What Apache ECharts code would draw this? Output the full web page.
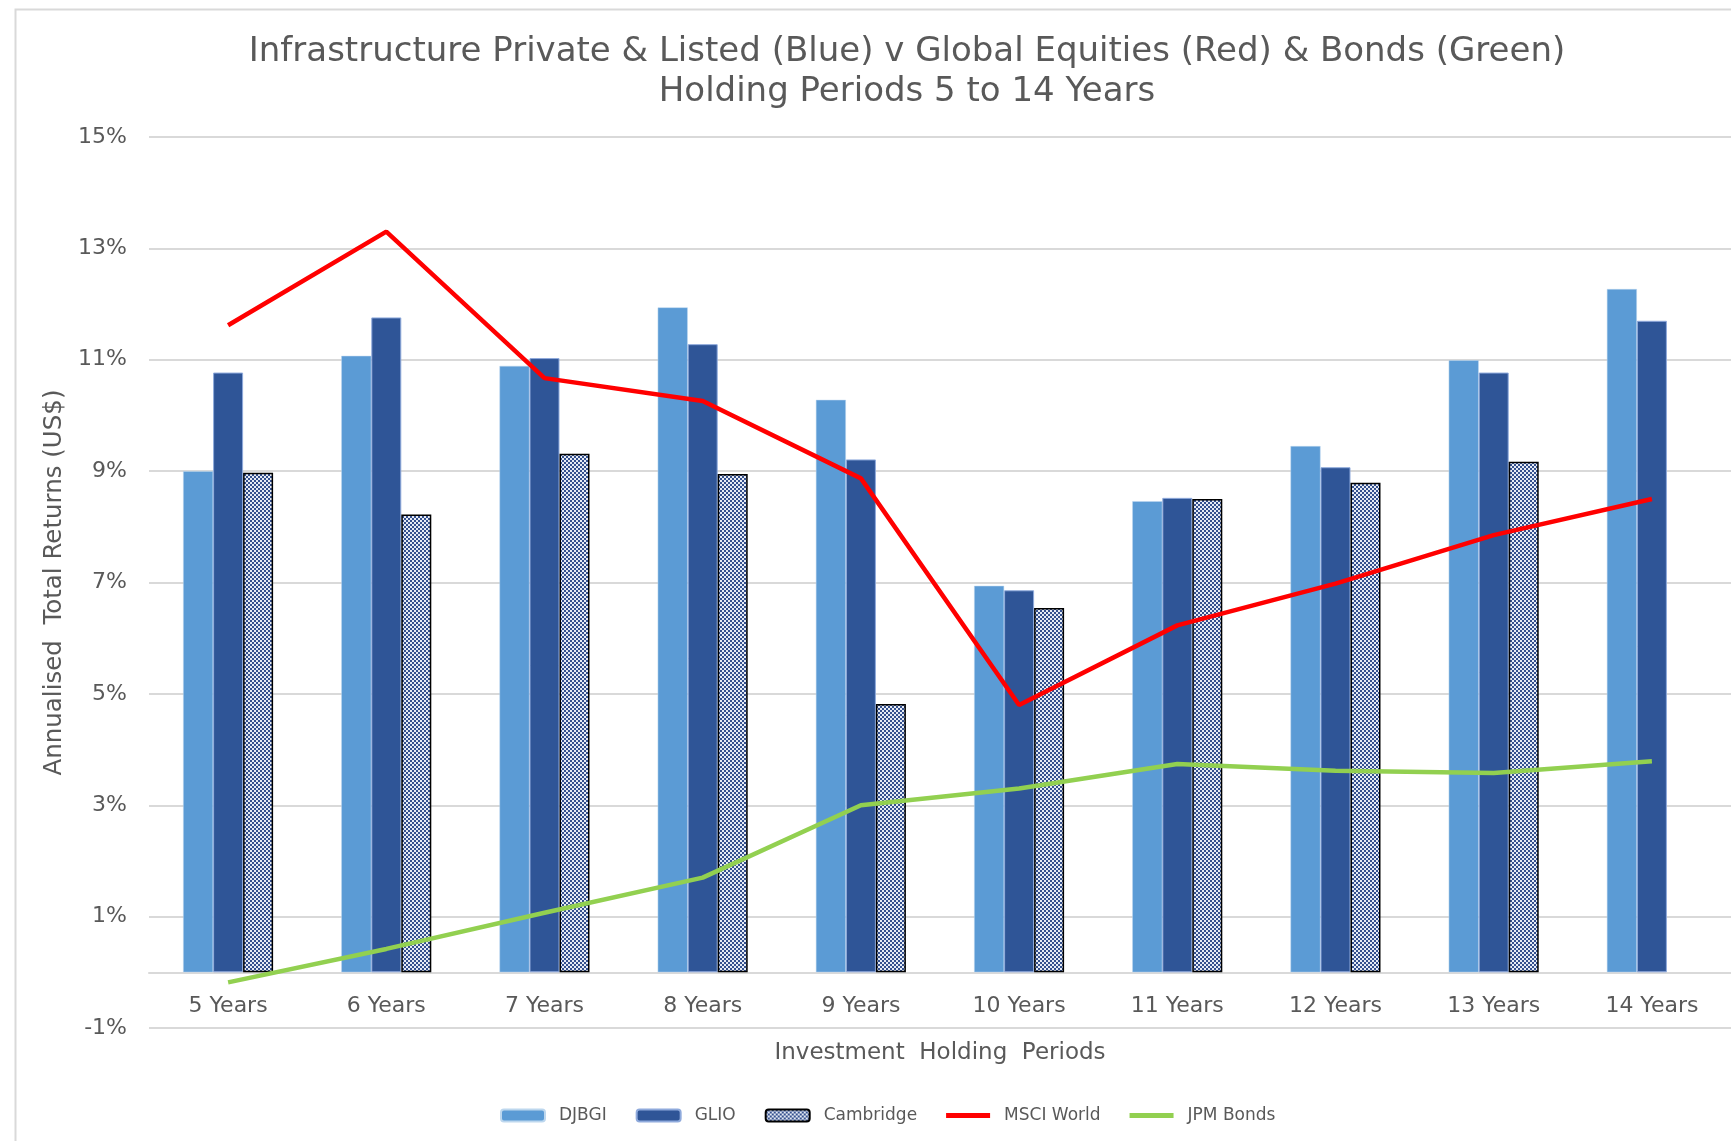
<!DOCTYPE html>
<html>
<head>
<meta charset="utf-8">
<title>Infrastructure v Equities & Bonds</title>
<script src="https://cdn.jsdelivr.net/npm/echarts@6.0.0/dist/echarts.min.js"></script>
<style>
  html, body { margin: 0; padding: 0; background: #fff; }
  #chart { width: 1731px; height: 1141px; }
</style>
</head>
<body>
<div id="chart"></div>
<script>
var periods = ['5 Years', '6 Years', '7 Years', '8 Years', '9 Years',
               '10 Years', '11 Years', '12 Years', '13 Years', '14 Years'];

var djbgi     = [9.00, 11.07, 10.89, 11.94, 10.28, 6.94, 8.46, 9.45, 10.99, 12.27];
var glio      = [10.77, 11.76, 11.03, 11.28, 9.21, 6.86, 8.52, 9.07, 10.77, 11.70];
var cambridge = [8.97, 8.22, 9.31, 8.95, 4.82, 6.54, 8.50, 8.79, 9.17, null];
var msciWorld = [11.62, 13.30, 10.67, 10.26, 8.87, 4.80, 6.23, 6.98, 7.85, 8.50];
var jpmBonds  = [-0.18, 0.42, 1.07, 1.70, 3.00, 3.30, 3.74, 3.62, 3.58, 3.79];

// tick labels shown on the left: -1%, 1%, 3% ... 15%
var tickLabels = ['-1%', '1%', '3%', '5%', '7%', '9%', '11%', '13%', '15%'];

var grey = '#595959';
var font = 'DejaVu Sans';

// small checker pattern for the Cambridge bars
function checker() {
    var c = document.createElement('canvas');
    c.width = 4; c.height = 4;
    var ctx = c.getContext('2d');
    ctx.fillStyle = '#34508e';
    ctx.fillRect(0, 0, 4, 4);
    ctx.fillStyle = '#e6ebf5';
    ctx.fillRect(0, 0, 2, 2);
    ctx.fillRect(2, 2, 2, 2);
    return c;
}

var lineIcon = 'path://M0,0H44V5H0Z';

var chart = echarts.init(document.getElementById('chart'));

var option = {
    animation: false,
    backgroundColor: '#fff',
    textStyle: { fontFamily: font },
    graphic: [{
        type: 'rect',
        left: 13, top: 7,
        shape: { width: 1760, height: 1180 },
        style: { fill: null, stroke: '#d9d9d9', lineWidth: 2 },
        z: -1
    }],
    title: {
        text: 'Infrastructure Private & Listed (Blue) v Global Equities (Red) & Bonds (Green)\nHolding Periods 5 to 14 Years',
        left: 902,
        top: 27,
        textAlign: 'center',
        textStyle: {
            color: grey, fontFamily: font, fontWeight: 'normal',
            fontSize: 34, lineHeight: 40, align: 'center'
        }
    },
    legend: {
        left: 495,
        top: 1102,
        itemWidth: 44,
        itemHeight: 12,
        itemGap: 29,
        textStyle: { color: grey, fontFamily: font, fontSize: 17, padding: [0, 0, 0, 9] },
        data: [
            'DJBGI', 'GLIO', 'Cambridge',
            { name: 'MSCI World', icon: lineIcon },
            { name: 'JPM Bonds', icon: lineIcon }
        ]
    },
    grid: {
        left: 149,
        right: -3,
        top: 137,
        bottom: 113,
        containLabel: false
    },
    xAxis: {
        type: 'category',
        data: periods,
        name: 'Investment  Holding  Periods',
        nameLocation: 'middle',
        nameGap: 14,
        nameMoveOverlap: false,
        nameTextStyle: { color: grey, fontSize: 23, fontFamily: font },
        axisLine: { onZero: true, onZeroAxisIndex: 0, lineStyle: { color: '#d9d9d9', width: 2 } },
        axisTick: { show: false },
        axisLabel: { color: grey, fontSize: 22, margin: -33, fontFamily: font }
    },
    yAxis: [{
        // data axis, -1% .. 15%
        type: 'value',
        min: -1,
        max: 15,
        axisLine: { show: false },
        axisTick: { show: false },
        axisLabel: { show: false },
        splitLine: { show: false }
    }, {
        // label/grid axis: step 2 from -1%
        type: 'value',
        min: 0,
        max: 16,
        interval: 2,
        position: 'left',
        name: 'Annualised  Total Returns (US$)',
        nameLocation: 'middle',
        nameRotate: 90,
        nameGap: 82,
        nameTextStyle: { color: grey, fontSize: 24.5, fontFamily: font },
        axisLine: { show: false },
        axisTick: { show: false },
        axisLabel: {
            color: grey, fontSize: 22, margin: 22, fontFamily: font,
            formatter: function (v) { return tickLabels[v / 2]; }
        },
        splitLine: { lineStyle: { color: '#d9d9d9', width: 2 } }
    }],
    series: [{
        name: 'DJBGI',
        type: 'bar',
        yAxisIndex: 0,
        data: djbgi,
        barWidth: 30,
        barGap: '0%',
        itemStyle: { color: '#5b9bd5', borderColor: '#bdd7ee', borderWidth: 0.5 }
    }, {
        name: 'GLIO',
        type: 'bar',
        yAxisIndex: 0,
        data: glio,
        barWidth: 30,
        barGap: '0%',
        itemStyle: { color: '#2f5597', borderColor: '#8faadc', borderWidth: 1 }
    }, {
        name: 'Cambridge',
        type: 'bar',
        yAxisIndex: 0,
        data: cambridge,
        barWidth: 30,
        barGap: '0%',
        itemStyle: {
            color: { image: checker(), repeat: 'repeat' },
            borderColor: '#000',
            borderWidth: 1.5
        }
    }, {
        name: 'MSCI World',
        type: 'line',
        yAxisIndex: 0,
        data: msciWorld,
        symbol: 'none',
        lineStyle: { color: '#ff0000', width: 4.5 },
        itemStyle: { color: '#ff0000' },
        z: 5
    }, {
        name: 'JPM Bonds',
        type: 'line',
        yAxisIndex: 0,
        data: jpmBonds,
        symbol: 'none',
        lineStyle: { color: '#92d050', width: 4.5 },
        itemStyle: { color: '#92d050' },
        z: 5
    }]
};

chart.setOption(option);
</script>
</body>
</html>
